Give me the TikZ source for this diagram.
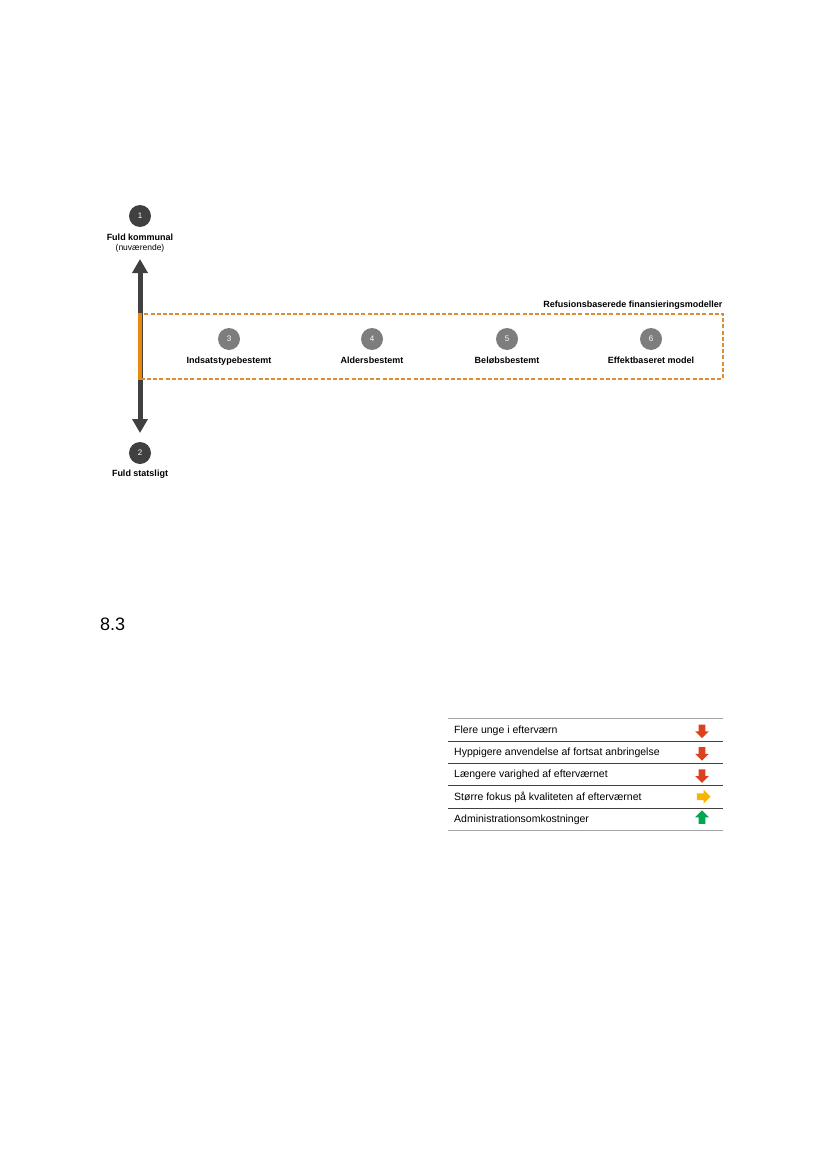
\documentclass[tikz,border=0pt]{standalone}
\usepackage{fontspec}
\setmainfont{Liberation Sans}
\usetikzlibrary{positioning,arrows.meta,shapes.arrows}

\definecolor{dotdark}{RGB}{64,64,64}
\definecolor{dotgrey}{RGB}{125,125,125}
\definecolor{barorange}{RGB}{232,136,12}
\definecolor{boxorange}{RGB}{222,142,50}
\definecolor{arrred}{RGB}{221,64,30}
\definecolor{arryellow}{RGB}{247,180,0}
\definecolor{arrgreen}{RGB}{0,166,80}
\definecolor{rulegrey}{RGB}{165,165,165}

\begin{document}
\begin{tikzpicture}[
  x=1pt, y=-1pt,
  endpt/.style={circle, fill=dotdark, minimum size=22pt, inner sep=0pt,
                text=white, font=\fontsize{8}{9}\selectfont},
  modeldot/.style={circle, fill=dotgrey, minimum size=22pt, inner sep=0pt,
                text=white, font=\fontsize{8}{9}\selectfont},
  lbl/.style={inner sep=0pt, font=\fontsize{9}{10}\selectfont\bfseries},
  sublbl/.style={inner sep=0pt, font=\fontsize{8.5}{10}\selectfont},
  rowtxt/.style={inner sep=0pt, anchor=base west, font=\fontsize{10.5}{12}\selectfont},
  axis/.style={{Triangle[length=14pt,width=15pt]}-{Triangle[length=14pt,width=15pt]},
               line width=5pt, draw=dotdark},
  effect/.style={single arrow, draw=none, minimum width=13.5pt, minimum height=13.5pt,
                 single arrow head extend=3.5pt, inner sep=3.2pt},
  thinrule/.style={draw=dotdark, line width=0.6pt},
]
\useasboundingbox (0,0) rectangle (827,1169);

% akse mellem de to yderpunkter
\node[endpt] (p1) at (140,216) {1};
\node[lbl] (kom) at (140,237) {Fuld kommunal};
\node[sublbl, below=3.5pt of kom] (nuv) {(nuværende)};
\node[endpt] (p2) at (140,453) {2};
\node[lbl, below=6pt of p2] (stat) {Fuld statsligt};
\coordinate (axtop) at (140,259);
\coordinate (axbot) at (140,433);
\draw[axis] (axtop) -- (axbot);

% refusionsbaserede modeller
\node[draw=boxorange, dash pattern=on 4pt off 2.2pt, line width=1.5pt,
      minimum width=582pt, minimum height=65pt, anchor=north west] (refbox) at (140,313) {};
\draw[barorange, line width=4pt] (refbox.north west) -- (refbox.south west);
\node[lbl, anchor=base east] (reftitle) at ([xshift=-1pt,yshift=5.5pt]refbox.north east)
  {Refusionsbaserede finansieringsmodeller};

\node[modeldot] (p3) at (229,339) {3};
\node[modeldot] (p4) at (372,339) {4};
\node[modeldot] (p5) at (507,339) {5};
\node[modeldot] (p6) at (651,339) {6};
\node[lbl, below=7pt of p3] (m3) {Indsatstypebestemt};
\node[lbl, below=7pt of p4] (m4) {Aldersbestemt};
\node[lbl, below=7pt of p5] (m5) {Beløbsbestemt};
\node[lbl, below=7pt of p6] (m6) {Effektbaseret model};

% afsnit
\node[inner sep=0pt, anchor=base west, font=\fontsize{18}{20}\selectfont] (sec) at (100,630) {8.3};

% tabel over effekter
\draw[rulegrey, line width=1.6pt] (448,718.3) -- (723,718.3);
\draw[thinrule] (448,741) -- (723,741);
\draw[thinrule] (448,763.3) -- (723,763.3);
\draw[thinrule] (448,785.6) -- (723,785.6);
\draw[thinrule] (448,807.8) -- (723,807.8);
\draw[rulegrey, line width=0.9pt] (448,830) -- (723,830);

\node[rowtxt] (r1) at (454,733) {Flere unge i efterværn};
\node[rowtxt] (r2) at (454,755.5) {Hyppigere anvendelse af fortsat anbringelse};
\node[rowtxt] (r3) at (454,777.8) {Længere varighed af efterværnet};
\node[rowtxt] (r4) at (454,800) {Større fokus på kvaliteten af efterværnet};
\node[rowtxt] (r5) at (454,822.2) {Administrationsomkostninger};

\node[effect, fill=arrred, rotate=-90] (e1) at (702,729.7) {};
\node[effect, fill=arrred, rotate=-90] (e2) at (702,752.2) {};
\node[effect, fill=arrred, rotate=-90] (e3) at (702,774.5) {};
\node[effect, fill=arryellow] (e4) at (702,796.7) {};
\node[effect, fill=arrgreen, rotate=90] (e5) at (702,818.9) {};
\end{tikzpicture}
\end{document}
